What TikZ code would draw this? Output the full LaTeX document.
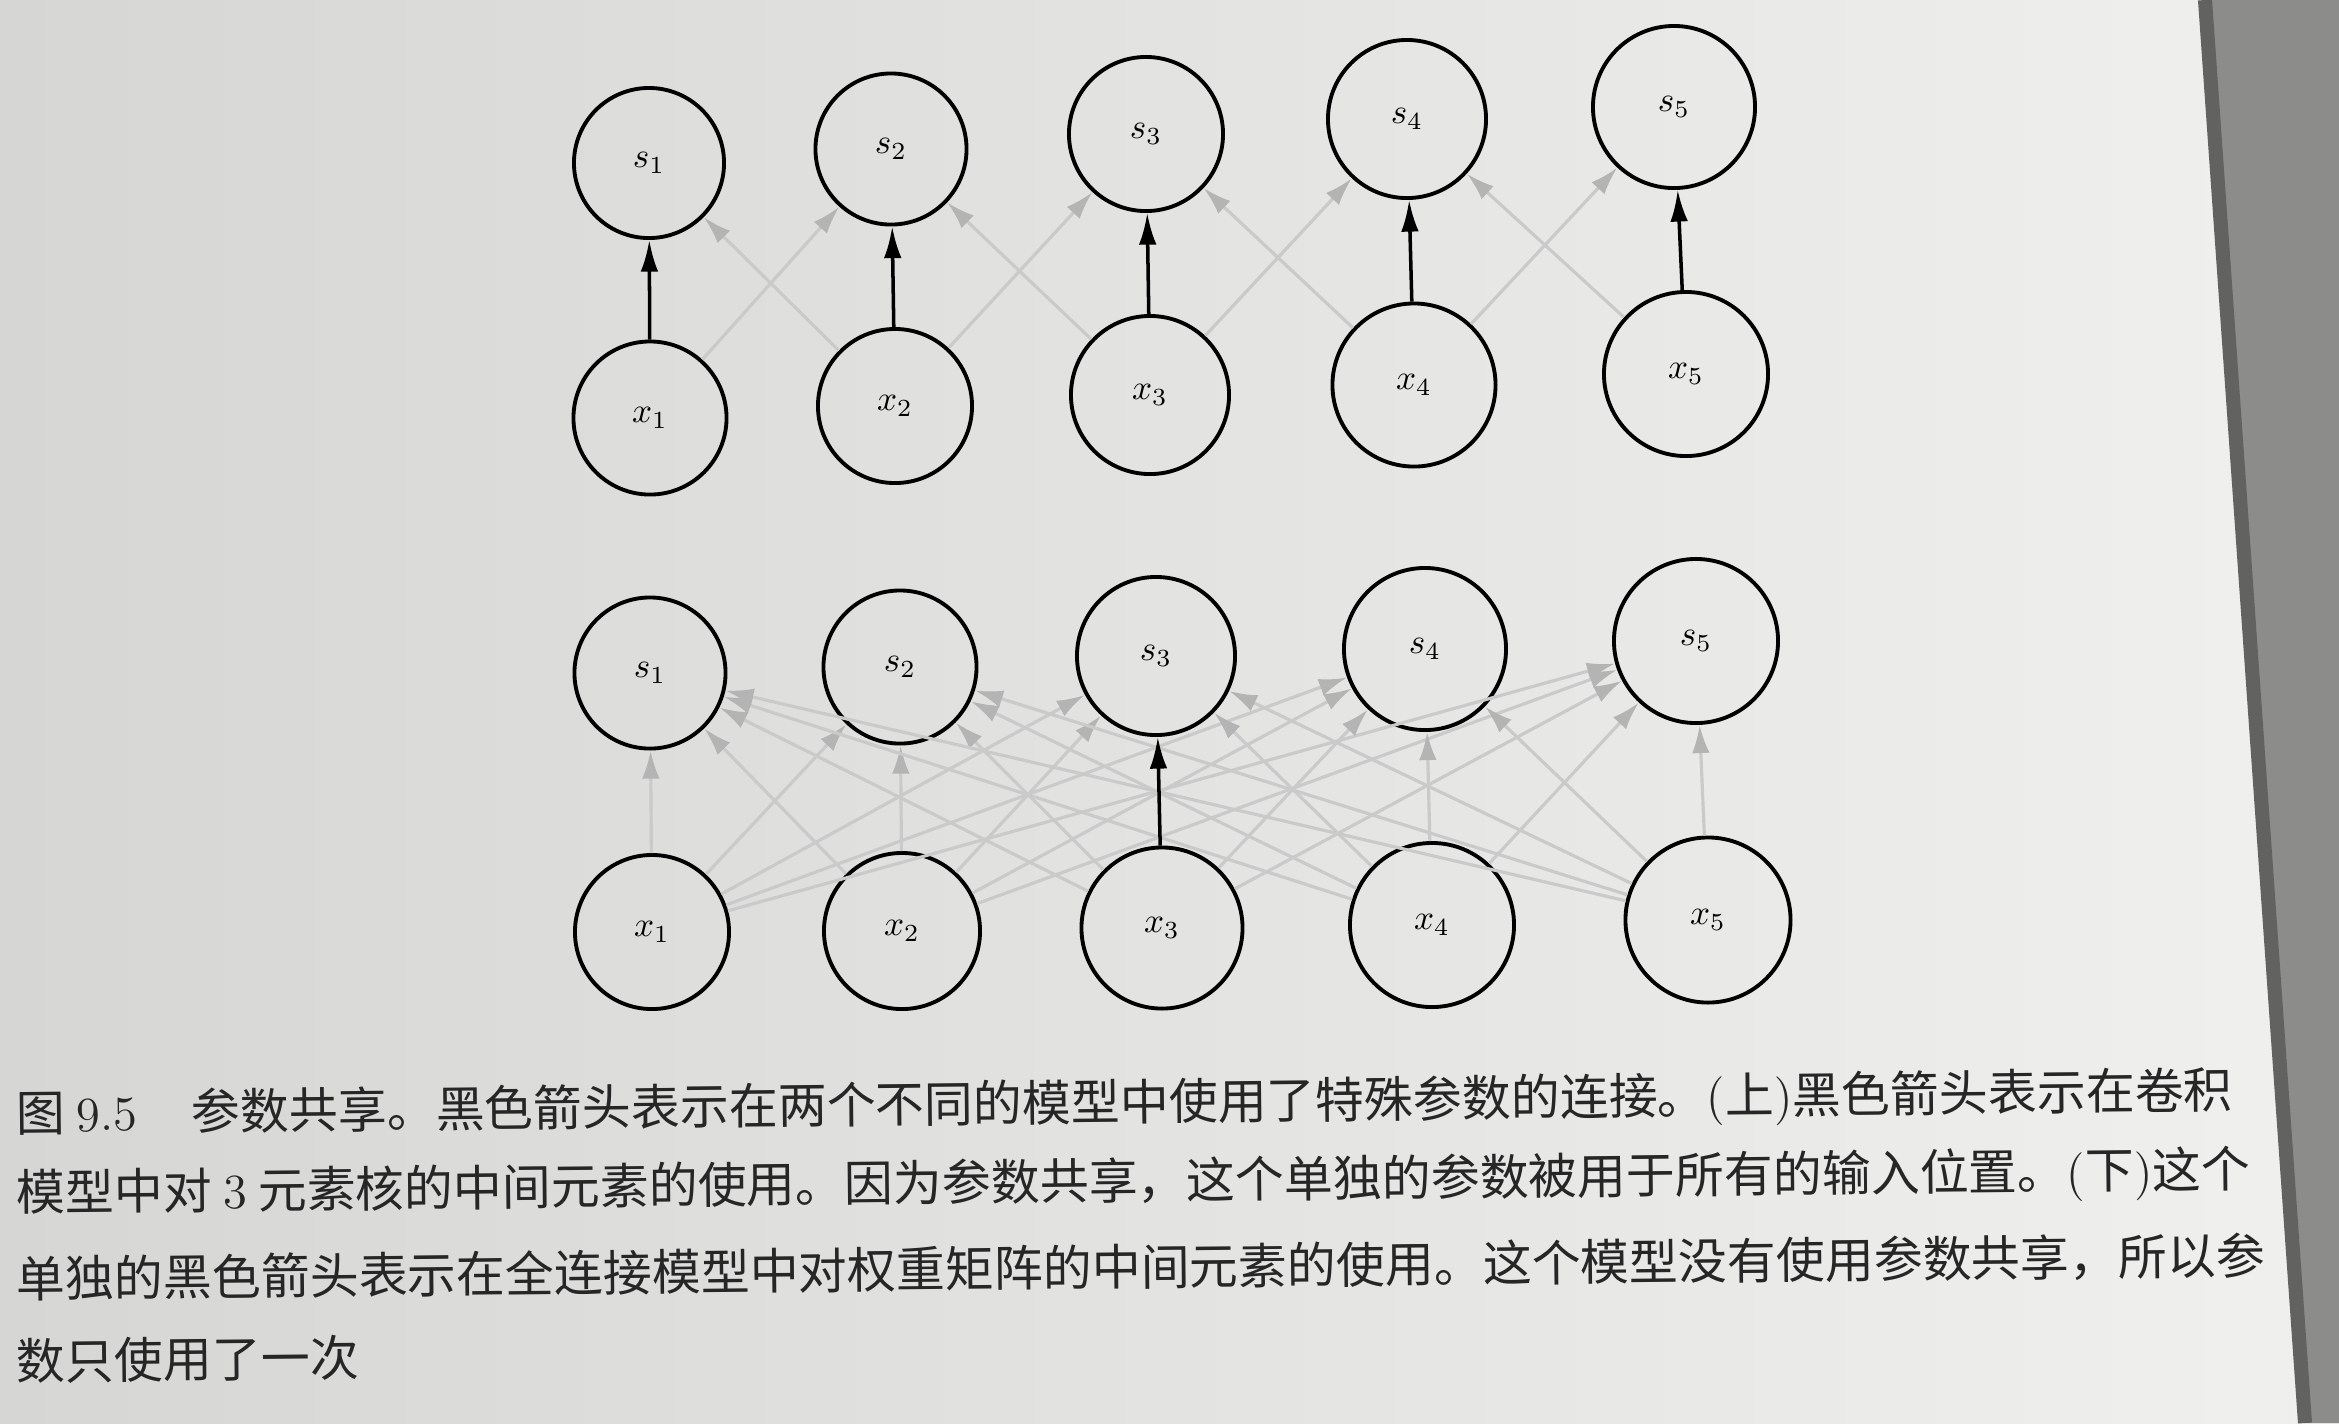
\documentclass[tikz,border=0pt]{standalone}
\usepackage{fontspec}
\newfontfamily\cjk{Noto Sans CJK SC}
\usetikzlibrary{arrows.meta}

\definecolor{paperL}{RGB}{214,214,212}
\definecolor{paperR}{RGB}{240,240,238}
\definecolor{edgegray}{RGB}{140,140,138}
\definecolor{faint}{RGB}{202,202,202}
\definecolor{fainttip}{RGB}{180,180,180}

\tikzset{
  unit/.style={circle, draw, line width=1.1pt, inner sep=0pt, font=\normalsize},
  shared/.style={-{Latex[length=9pt,width=5pt]}, line width=1pt},
  other/.style={-{Latex[length=8pt,width=5pt,color=fainttip]}, line width=0.9pt, draw=faint},
  captionline/.style={anchor=west, inner sep=0pt, text=black!85,
    font=\fontsize{13.9}{16}\selectfont\cjk, rotate=0.6}
}

\begin{document}
\begin{tikzpicture}[x=0.01cm, y=-0.01cm]
    \useasboundingbox (0,0) rectangle (2339,1423);
    % Papel e borda da foto
    \shade[left color=paperL, right color=paperR] (0,0) rectangle (2339,1423);
    \fill[edgegray] (2205,0) -- (2339,0) -- (2339,1423) -- (2305,1423) -- cycle;
    \draw[line width=4pt, edgegray!70!black] (2205,0) -- (2305,1423);

    % Modelo convolucional (cima)
    \foreach \i/\x/\y/\d in {1/649/163/1.50, 2/891/149/1.51, 3/1146/134/1.54, 4/1407/119/1.58, 5/1674/107/1.62}
        \node[unit, minimum size=\d cm] (ts\i) at (\x,\y) {$s_{\i}$};
    \foreach \i/\x/\y/\d in {1/650/418/1.53, 2/895/406/1.54, 3/1150/395/1.58, 4/1414/385/1.63, 5/1686/374/1.64}
        \node[unit, minimum size=\d cm] (tx\i) at (\x,\y) {$x_{\i}$};
    \foreach \i/\j in {1/2, 2/1, 2/3, 3/2, 3/4, 4/3, 4/5, 5/4}
        \draw[other] (tx\i) -- (ts\j);
    \foreach \i in {1,...,5}
        \draw[shared] (tx\i) -- (ts\i);

    % Modelo totalmente conectado (baixo)
    \foreach \i/\x/\y/\d in {1/650/673/1.51, 2/900/667/1.53, 3/1156/656/1.58, 4/1425/649/1.62, 5/1696/641/1.64}
        \node[unit, minimum size=\d cm] (bs\i) at (\x,\y) {$s_{\i}$};
    \foreach \i/\x/\y/\d in {1/652/932/1.54, 2/902/931/1.56, 3/1162/928/1.61, 4/1432/925/1.64, 5/1708/920/1.65}
        \node[unit, minimum size=\d cm] (bx\i) at (\x,\y) {$x_{\i}$};
    \foreach \i in {1,...,5}
        \foreach \j in {1,...,5}
            {\ifnum\i\j=33 \else \draw[other] (bx\i) -- (bs\j); \fi}
    \draw[shared] (bx3) -- (bs3);

    % Legenda
    \node[captionline] (cap1) at (16,1117) {图 {\rmfamily 9.5}\hspace{1.1em}参数共享。黑色箭头表示在两个不同的模型中使用了特殊参数的连接。{\rmfamily(}上{\rmfamily)}黑色箭头表示在卷积};
    \node[captionline] (cap2) at (16,1196) {模型中对 {\rmfamily 3} 元素核的中间元素的使用。因为参数共享，这个单独的参数被用于所有的输入位置。{\rmfamily(}下{\rmfamily)}这个};
    \node[captionline] (cap3) at (16,1279) {单独的黑色箭头表示在全连接模型中对权重矩阵的中间元素的使用。这个模型没有使用参数共享，所以参};
    \node[captionline] (cap4) at (16,1361) {数只使用了一次};
\end{tikzpicture}
\end{document}
